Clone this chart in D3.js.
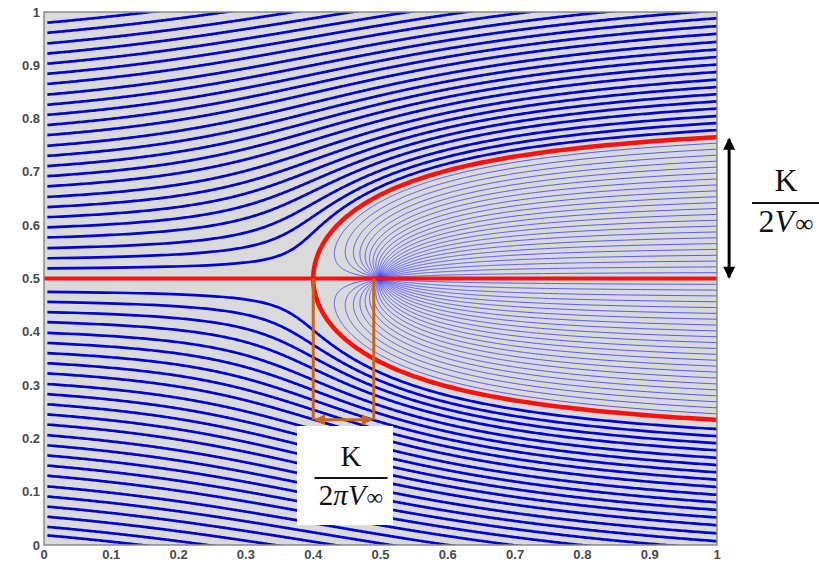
<!DOCTYPE html>
<html>
<head>
<meta charset="utf-8">
<script src="https://cdn.jsdelivr.net/npm/d3@7"></script>
<style>
  body { margin: 0; background: #fff; }
  svg { display: block; }
</style>
</head>
<body>
<div id="chart"></div>
<script>
// uniform flow + point source (Rankine half body)
var svgWidth = 819, svgHeight = 563;
var margin = {top: 12, right: 102, bottom: 18, left: 44};
var width = svgWidth - margin.left - margin.right;
var height = svgHeight - margin.top - margin.bottom;

var xTicks = [0, 0.1, 0.2, 0.3, 0.4, 0.5, 0.6, 0.7, 0.8, 0.9, 1];
var yTicks = [0, 0.1, 0.2, 0.3, 0.4, 0.5, 0.6, 0.7, 0.8, 0.9, 1];

var sourcePos = [0.5, 0.5];
var freeStream = [1];          // V_inf
var sourceStrength = [0.628];  // K  -> K/(2 pi V) = 0.1

// start heights of the streamlines at the left edge (x = 0)
var seedUpper = [0.519, 0.538, 0.557, 0.577, 0.596, 0.615, 0.634, 0.653, 0.673, 0.692,
                 0.711, 0.730, 0.749, 0.769, 0.788, 0.807, 0.826, 0.845, 0.865, 0.884,
                 0.903, 0.922, 0.941, 0.961, 0.980];
var seedLower = [0.475, 0.456, 0.437, 0.418, 0.398, 0.379, 0.360, 0.341, 0.322, 0.302,
                 0.283, 0.264, 0.245, 0.226, 0.206, 0.187, 0.168, 0.149, 0.130, 0.110,
                 0.091, 0.072, 0.053, 0.034, 0.018];
// angles (deg) at which the source lines leave the source
var sourceAngles = [7.5, 15, 22.5, 30, 37.5, 45, 52.5, 60, 67.5, 75, 82.5, 90,
                    97.5, 105, 112.5, 120, 127.5, 135, 142.5, 150, 157.5, 165, 172.5,
                    -7.5, -15, -22.5, -30, -37.5, -45, -52.5, -60, -67.5, -75, -82.5, -90,
                    -97.5, -105, -112.5, -120, -127.5, -135, -142.5, -150, -157.5, -165, -172.5];

var svg = d3.select("#chart").append("svg")
    .attr("width", svgWidth).attr("height", svgHeight);
var chartGroup = svg.append("g")
    .attr("transform", `translate(${margin.left}, ${margin.top})`);

var xScale = d3.scaleLinear().domain([0, 1]).range([0, width]);
var yScale = d3.scaleLinear().domain([0, 1]).range([height, 0]);

svg.append("defs").append("clipPath").attr("id", "plotclip")
  .append("rect").attr("width", width).attr("height", height);

chartGroup.append("rect").attr("width", width).attr("height", height).attr("fill", "#dadada");

var m = sourceStrength[0] / (2 * Math.PI);
var V = freeStream[0];

// walk along a streamline of value psi, theta going from t0 to t1
function trace(psi, t0, t1) {
  var pts = [], n = 700;
  for (var i = 0; i <= n; i++) {
    var t = t0 + (t1 - t0) * i / n;
    var yy = (psi - m * t) / V;
    var xx = yy / Math.tan(t);
    pts.push([sourcePos[0] + xx, sourcePos[1] + yy]);
    if (xx > 0.52 || Math.abs(yy) > 0.52) break;
  }
  return pts;
}

var line = d3.line().x(d => xScale(d[0])).y(d => yScale(d[1]));
var plot = chartGroup.append("g").attr("clip-path", "url(#plotclip)");

// thin lines out of the source
sourceAngles.forEach(function(a) {
  var al = a * Math.PI / 180;
  var pts = [[sourcePos[0], sourcePos[1]]].concat(trace(m * al, al - Math.sign(al) * 1e-4, Math.sign(al) * 4e-4));
  plot.append("path").attr("d", line(pts))
    .attr("fill", "none").attr("stroke", "#2a2aff").attr("stroke-width", 0.9).attr("stroke-opacity", 0.85);
});

// outer streamlines
seedUpper.concat(seedLower).forEach(function(y0) {
  var yy0 = y0 - sourcePos[1], xx0 = 0.005 - sourcePos[0];
  var t0 = Math.atan2(yy0, xx0);
  var psi = V * yy0 + m * t0;
  var pts = trace(psi, t0, Math.sign(t0) * 4e-4);
  plot.append("path").attr("d", line(pts))
    .attr("fill", "none").attr("stroke", "#0000d8").attr("stroke-width", 2.7);
});

// dividing streamline
plot.append("path").attr("d", line([[0, sourcePos[1]], [1, sourcePos[1]]]))
  .attr("stroke", "#ff1010").attr("stroke-width", 4).attr("fill", "none");
[1, -1].forEach(function(s) {
  var pts = trace(s * m * Math.PI, s * (Math.PI - 1e-4), s * 4e-4);
  plot.append("path").attr("d", line(pts))
    .attr("fill", "none").attr("stroke", "#ff1010").attr("stroke-width", 4.5);
});

// frame + axes
chartGroup.append("rect").attr("width", width).attr("height", height)
  .attr("fill", "none").attr("stroke", "#8a8a8a").attr("stroke-width", 1.5);

var labelFmt = d => d3.format("")(d);
chartGroup.append("g").selectAll("text").data(yTicks).enter().append("text")
  .attr("x", -4).attr("y", d => yScale(d)).attr("dy", "0.35em")
  .attr("text-anchor", "end").text(labelFmt)
  .attr("font-family", "Liberation Sans, Arial, sans-serif").attr("font-weight", "bold")
  .attr("font-size", "13px").attr("fill", "#4a4a4a");
chartGroup.append("g").selectAll("text").data(xTicks).enter().append("text")
  .attr("x", d => xScale(d)).attr("y", height + 13.5)
  .attr("text-anchor", "middle").text(labelFmt)
  .attr("font-family", "Liberation Sans, Arial, sans-serif").attr("font-weight", "bold")
  .attr("font-size", "13px").attr("fill", "#4a4a4a");

// annotations
var defs = svg.select("defs");
function marker(id, color, w, h) {
  defs.append("marker").attr("id", id).attr("viewBox", "0 0 10 10")
    .attr("refX", 9).attr("refY", 5).attr("markerUnits", "userSpaceOnUse")
    .attr("markerWidth", w).attr("markerHeight", h).attr("orient", "auto-start-reverse")
    .append("path").attr("d", "M0,0 L10,5 L0,10 Z").attr("fill", color);
}
marker("blackhead", "#000", 16, 12);
marker("brownhead", "#c8651b", 12, 11);

var tBody = trace(m * Math.PI, Math.PI - 1e-4, 4e-4);
var yTopAt1 = d3.min(tBody.filter(p => p[0] >= 0.999), p => p[1]) || 0.765;
var ann = chartGroup.append("g");
ann.append("line")
  .attr("x1", xScale(1.018)).attr("x2", xScale(1.018))
  .attr("y1", yScale(yTopAt1) + 2).attr("y2", yScale(sourcePos[1]) - 1)
  .attr("stroke", "#000").attr("stroke-width", 3)
  .attr("marker-start", "url(#blackhead)").attr("marker-end", "url(#blackhead)");

var stagX = sourcePos[0] - m / V;
var bracketY = 0.235;
var brown = "#c8651b";
[stagX, sourcePos[0] - 0.01].forEach(function(x) {
  ann.append("line").attr("x1", xScale(x)).attr("x2", xScale(x))
    .attr("y1", yScale(sourcePos[1])).attr("y2", yScale(bracketY))
    .attr("stroke", brown).attr("stroke-width", 3);
});
ann.append("line").attr("x1", xScale(stagX) + 2).attr("x2", xScale(sourcePos[0] - 0.01) - 2)
  .attr("y1", yScale(bracketY)).attr("y2", yScale(bracketY))
  .attr("stroke", brown).attr("stroke-width", 3)
  .attr("marker-start", "url(#brownhead)").attr("marker-end", "url(#brownhead)");

// fraction labels (page coords)
var serif = "Liberation Serif, DejaVu Serif, serif";
function fraction(cx, cy, lineW, parts, size) {
  var g = svg.append("g").attr("font-family", serif).attr("fill", "#111");
  g.append("text").attr("x", cx).attr("y", cy - 12).attr("text-anchor", "middle")
    .attr("font-size", size).text("K");
  g.append("line").attr("x1", cx - lineW / 2).attr("x2", cx + lineW / 2)
    .attr("y1", cy).attr("y2", cy).attr("stroke", "#111").attr("stroke-width", 2);
  var t = g.append("text").attr("x", cx).attr("y", cy + size * 0.92).attr("text-anchor", "middle")
    .attr("font-size", size);
  parts.forEach(function(p) {
    var ts = t.append("tspan").attr("font-style", p[1] ? "italic" : "normal").text(p[0]);
    if (p[0] === "\u221e") ts.attr("font-size", size * 0.8).attr("dx", 1);
  });
}

svg.append("rect").attr("x", 297).attr("y", 426).attr("width", 96).attr("height", 99).attr("fill", "#fff");
fraction(351, 478, 73, [["2", 0], ["\u03c0", 1], ["V", 1], ["\u221e", 0]], 29);
fraction(786, 203, 68, [["2", 0], ["V", 1], ["\u221e", 0]], 32);
</script>
</body>
</html>
